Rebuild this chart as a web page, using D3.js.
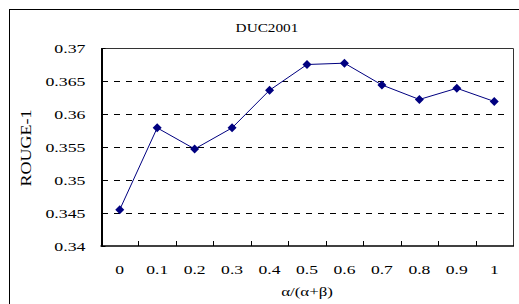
<!DOCTYPE html>
<html>
<head>
<meta charset="utf-8">
<script src="https://cdn.jsdelivr.net/npm/d3@7"></script>
<style>
  body { margin: 0; background: #fff; }
  text { font-family: "Liberation Serif", "Times New Roman", serif; fill: #000; }
</style>
</head>
<body>
<div id="chart"></div>
<script>
// data
const categories = ["0", "0.1", "0.2", "0.3", "0.4", "0.5", "0.6", "0.7", "0.8", "0.9", "1"];
const rouge1 = [0.3455, 0.3579, 0.3547, 0.3579, 0.3636, 0.3675, 0.3677, 0.3644, 0.3622, 0.3639, 0.3619];
const yTicks = [0.34, 0.345, 0.35, 0.355, 0.36, 0.365, 0.37];
const yTickLabels = ["0.34", "0.345", "0.35", "0.355", "0.36", "0.365", "0.37"];

const W = 519, H = 304;
const plot = { left: 101, top: 48, right: 513, bottom: 246 };

var svg = d3.select("#chart").append("svg")
    .attr("width", W)
    .attr("height", H);

// outer frame (runs off the right / bottom edge)
svg.append("rect")
    .attr("x", 9.5).attr("y", 9.5)
    .attr("width", 530).attr("height", 320)
    .attr("fill", "none")
    .attr("stroke", "#000")
    .attr("stroke-width", 1);

var x = d3.scaleBand()
    .domain(categories)
    .range([plot.left, plot.right])
    .padding(0);

var y = d3.scaleLinear()
    .domain([0.34, 0.37])
    .range([plot.bottom, plot.top]);

// stretch text horizontally, the picture is squashed vertically
function stretch(sel, k) {
    sel.each(function () {
        var len = this.getComputedTextLength();
        d3.select(this)
            .attr("textLength", len * k)
            .attr("lengthAdjust", "spacingAndGlyphs");
    });
}

// dashed gridlines
svg.append("g")
    .selectAll("line")
    .data(yTicks.slice(1, -1))
    .join("line")
    .attr("x1", plot.left + 1)
    .attr("x2", plot.right - 3)
    .attr("y1", d => Math.round(y(d)) + 0.5)
    .attr("y2", d => Math.round(y(d)) + 0.5)
    .attr("stroke", "#000")
    .attr("stroke-width", 1)
    .attr("stroke-dasharray", "6,6");

// top and right border of plot area
svg.append("path")
    .attr("d", `M${plot.left},${plot.top + 0.5}H${plot.right + 0.5}V${plot.bottom}`)
    .attr("fill", "none")
    .attr("stroke", "#333")
    .attr("stroke-width", 1);

// Y axis
var yAxis = svg.append("g")
    .attr("transform", `translate(${plot.left + 0.5},0)`)
    .call(d3.axisLeft(y)
        .tickValues(yTicks)
        .tickFormat((d, i) => yTickLabels[i])
        .tickSizeInner(-4)
        .tickSizeOuter(0)
        .tickPadding(16));
yAxis.select(".domain").attr("stroke-width", 2);
yAxis.selectAll("text")
    .attr("font-size", 13.5)
    .style("font-family", "Liberation Serif, serif")
    .call(stretch, 1.32);

// X axis, ticks between the categories
var xAxis = svg.append("g")
    .attr("transform", `translate(0,${plot.bottom})`)
    .call(d3.axisBottom(x).tickSize(0).tickPadding(0));
xAxis.select(".domain").remove();
xAxis.selectAll("text")
    .attr("y", 28)
    .attr("dy", 0)
    .attr("font-size", 13.5)
    .style("font-family", "Liberation Serif, serif")
    .call(stretch, 1.3);

svg.append("line")
    .attr("x1", plot.left - 0.5).attr("x2", plot.right + 1)
    .attr("y1", plot.bottom).attr("y2", plot.bottom)
    .attr("stroke", "#000")
    .attr("stroke-width", 1.5);

svg.append("g")
    .selectAll("line")
    .data(categories.slice(1))
    .join("line")
    .attr("x1", d => Math.round(x(d)) + 0.5)
    .attr("x2", d => Math.round(x(d)) + 0.5)
    .attr("y1", plot.bottom - 5)
    .attr("y2", plot.bottom)
    .attr("stroke", "#000")
    .attr("stroke-width", 1);

// the line and diamond markers
var cx = d => x(d) + x.bandwidth() / 2;

svg.append("path")
    .datum(rouge1)
    .attr("fill", "none")
    .attr("stroke", "#000080")
    .attr("stroke-width", 1)
    .attr("d", d3.line()
        .x((d, i) => cx(categories[i]))
        .y(d => y(d)));

svg.append("g")
    .selectAll("path")
    .data(rouge1)
    .join("path")
    .attr("transform", (d, i) => `translate(${cx(categories[i])},${y(d)})`)
    .attr("d", "M0,-4.5L4.5,0L0,4.5L-4.5,0Z")
    .attr("fill", "#000080");

// titles
svg.append("text")
    .attr("x", 267)
    .attr("y", 32)
    .attr("text-anchor", "middle")
    .attr("font-size", 13.5)
    .text("DUC2001")
    .call(stretch, 1.13);

svg.append("text")
    .attr("x", (plot.left + plot.right) / 2)
    .attr("y", 296)
    .attr("text-anchor", "middle")
    .attr("font-size", 13.5)
    .text("α/(α+β)")
    .call(stretch, 1.25);

svg.append("text")
    .attr("transform", "translate(31,148) rotate(-90)")
    .attr("text-anchor", "middle")
    .attr("font-size", 15)
    .text("ROUGE-1")
    .call(stretch, 1.2);
</script>
</body>
</html>
